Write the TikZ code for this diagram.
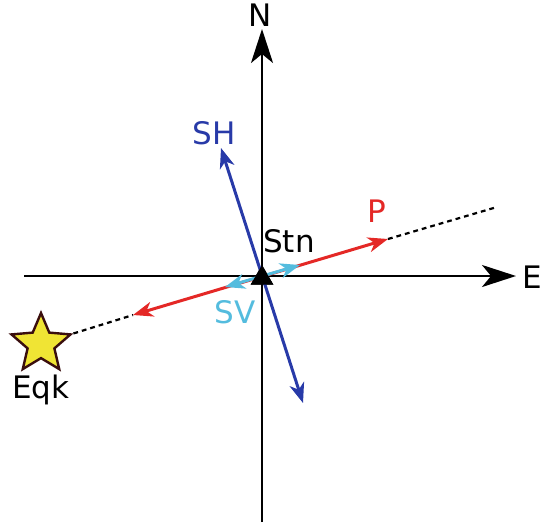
\documentclass[tikz,border=0pt]{standalone}
\usepackage{fontspec}
\setmainfont{DejaVu Sans}
\usetikzlibrary{arrows.meta, shapes.geometric}
\definecolor{pred}{RGB}{228,40,38}
\definecolor{shblue}{RGB}{40,58,168}
\definecolor{svcyan}{RGB}{84,188,222}
\definecolor{starfill}{RGB}{240,228,52}
\definecolor{staredge}{RGB}{58,14,14}

\begin{document}
\begin{tikzpicture}[
  x=0.5pt, y=-0.5pt,
  axis/.style={draw, line width=1.2pt, -{Stealth[length=17pt, width=11pt, inset=4.5pt]}},
  wave/.style={draw, line width=1.5pt, {Stealth[length=10pt, width=7.5pt, inset=3pt]}-{Stealth[length=10pt, width=7.5pt, inset=3pt]}},
  path/.style={draw, line width=1.1pt, dash pattern=on 2.4pt off 2pt},
  lbl/.style={font=\fontsize{15.5}{18}\selectfont, inner sep=0pt}
]
\useasboundingbox (0,0) rectangle (544,525);
% Points
\coordinate (o) at (262,276);
\coordinate (west) at (24,276);
\coordinate (east) at (516,276);
\coordinate (south) at (262,522);
\coordinate (north) at (262,29);
\coordinate (pl) at (133,315);
\coordinate (pr) at (388,239);
\coordinate (far) at (497,207);
\coordinate (svl) at (225,287);
\coordinate (svr) at (300,265);
\coordinate (shu) at (221,148);
\coordinate (shd) at (303,403);
% Nodes
\node[star, star points=5, star point ratio=2.2, minimum size=31pt, inner sep=0pt,
      fill=starfill, draw=staredge, line width=1.2pt] (eqk) at (41,344) {};
\node[regular polygon, regular polygon sides=3, minimum size=13pt, inner sep=0pt,
      fill=black] (stn) at (262,278) {};
\node[lbl] (nlabel) at (260,15) {N};
\node[lbl] (elabel) at (532,277) {E};
\node[lbl] (eqklabel) at (41,390) {Eqk};
\node[lbl] (stnlabel) at (289,241) {Stn};
\node[lbl, text=pred] (plabel) at (377,211) {P};
\node[lbl, text=shblue] (shlabel) at (214,133) {SH};
\node[lbl, text=svcyan] (svlabel) at (235,312) {SV};
% Edges
\path[axis] (west) -- (east);
\path[axis] (south) -- (north);
\path[path] (eqk.18) -- (pl);
\path[path] (pr) -- (far);
\path[wave, pred] (pl) -- (pr);
\path[wave, svcyan] (svl) -- (svr);
\path[wave, shblue] (shd) -- (shu);
\node[regular polygon, regular polygon sides=3, minimum size=13pt, inner sep=0pt,
      fill=black] at (stn) {};
\end{tikzpicture}
\end{document}
